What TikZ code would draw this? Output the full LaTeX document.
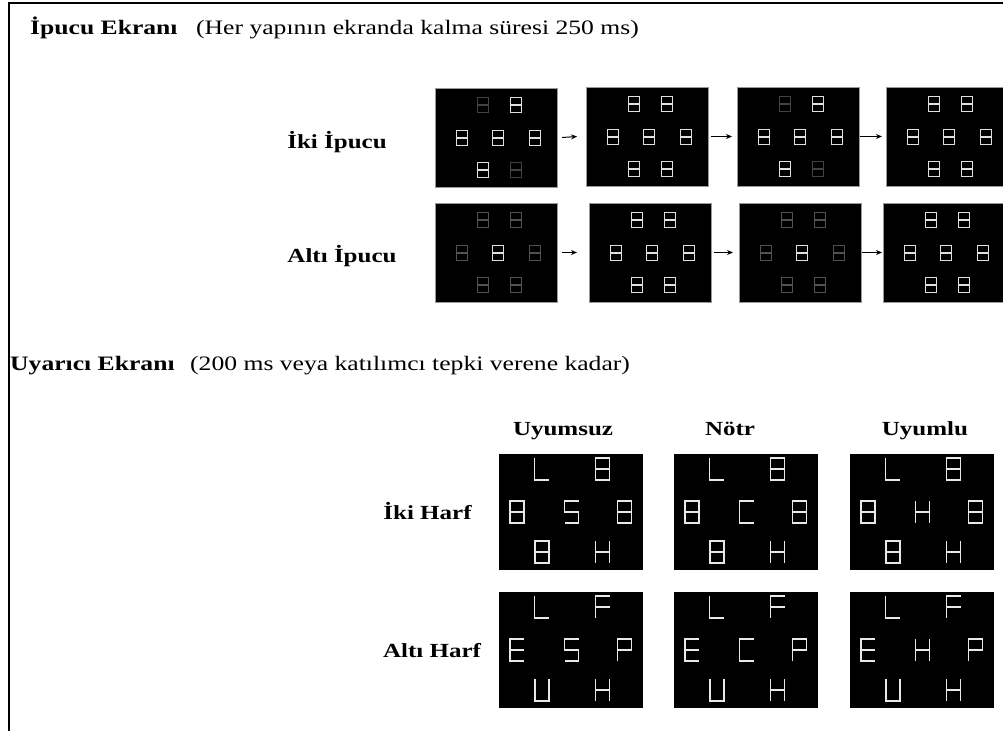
\documentclass[tikz,border=0pt]{standalone}
\usepackage{fontspec}
\setmainfont{Liberation Serif}[FakeStretch=1.25]
\usetikzlibrary{arrows.meta}
\begin{document}
\begin{tikzpicture}[x=1pt,y=-1pt,
  hdr/.style={font=\fontsize{20.5}{24}\selectfont\bfseries, inner sep=0pt, anchor=base west},
  sub/.style={font=\fontsize{20.5}{24}\selectfont, inner sep=0pt, anchor=base west},
  lbl/.style={font=\fontsize{20}{24}\selectfont\bfseries, inner sep=0pt, anchor=base},
  cuepanel/.style={fill=black, draw=black!40, line width=0.8pt, minimum width=122pt, minimum height=99pt, anchor=north west, inner sep=0pt, outer sep=0pt},
  stimpanel/.style={fill=black, draw=none, minimum width=144pt, minimum height=116pt, anchor=north west, inner sep=0pt, outer sep=0pt},
  seg/.style={line width=1.5pt, line cap=butt, line join=miter},
  arr/.style={-{Stealth[length=6pt,width=5pt]}, line width=1pt},
  frame/.style={line width=2pt},
  bright/.style={color=black!12},
  dimA/.style={color=black!74},
  dimB/.style={color=black!68},
  letter/.style={color=black!9},
  pics/g8/.style={code={\draw[seg] (-\ga,-\gb) rectangle (\ga,\gb) (-\ga,0) -- (\ga,0);}},
  pics/gL/.style={code={\draw[seg] (-\ga,-\gb) -- (-\ga,\gb) -- (\ga,\gb);}},
  pics/gS/.style={code={\draw[seg] (\ga,-\gb) -- (-\ga,-\gb) -- (-\ga,0) -- (\ga,0) -- (\ga,\gb) -- (-\ga,\gb);}},
  pics/gH/.style={code={\draw[seg] (-\ga,-\gb) -- (-\ga,\gb) (\ga,-\gb) -- (\ga,\gb) (-\ga,0) -- (\ga,0);}},
  pics/gC/.style={code={\draw[seg] (\ga,-\gb) -- (-\ga,-\gb) -- (-\ga,\gb) -- (\ga,\gb);}},
  pics/gE/.style={code={\draw[seg] (\ga,-\gb) -- (-\ga,-\gb) -- (-\ga,\gb) -- (\ga,\gb) (-\ga,0) -- (\ga,0);}},
  pics/gF/.style={code={\draw[seg] (\ga,-\gb) -- (-\ga,-\gb) -- (-\ga,\gb) (-\ga,0) -- (\ga,0);}},
  pics/gP/.style={code={\draw[seg] (-\ga,\gb) -- (-\ga,-\gb) -- (\ga,-\gb) -- (\ga,0) -- (-\ga,0);}},
  pics/gU/.style={code={\draw[seg] (-\ga,-\gb) -- (-\ga,\gb) -- (\ga,\gb) -- (\ga,-\gb);}}
]
\useasboundingbox (0,0) rectangle (1003,731);
\clip (0,0) rectangle (1003,731);

% frame
\draw[frame] (9,731) -- (9,3) -- (1003,3);

% headers
\node[hdr] (h1) at (30,34) {İpucu Ekranı};
\node[sub] (h1s) at (196,34) {(Her yapının ekranda kalma süresi 250 ms)};
\node[hdr] (h2) at (10,370) {Uyarıcı Ekranı};
\node[sub] (h2s) at (190,370) {(200 ms veya katılımcı tepki verene kadar)};

% cue row labels
\node[lbl] (l1) at (337,148) {İki İpucu};
\node[lbl] (l2) at (342,262) {Altı İpucu};

% cue glyph set macro
\newcommand\cueglyphs[8]{%
  \begin{scope}[shift={(#1.north west)}]
    \def\ga{5.5}\def\gb{7.5}
    \pic[#2] at (48,17) {g8};
    \pic[#3] at (81,17) {g8};
    \pic[#4] at (27,50) {g8};
    \pic[#5] at (63,50) {g8};
    \pic[#6] at (100,50) {g8};
    \pic[#7] at (48,82) {g8};
    \pic[#8] at (81,82) {g8};
  \end{scope}}

% cue panels row 1
\node[cuepanel] (c11) at (435,88) {};
\node[cuepanel] (c12) at (586,87) {};
\node[cuepanel] (c13) at (737,87) {};
\node[cuepanel] (c14) at (886,87) {};
\cueglyphs{c11}{dimA}{bright}{bright}{bright}{bright}{bright}{dimA}
\cueglyphs{c12}{bright}{bright}{bright}{bright}{bright}{bright}{bright}
\cueglyphs{c13}{dimA}{bright}{bright}{bright}{bright}{bright}{dimA}
\cueglyphs{c14}{bright}{bright}{bright}{bright}{bright}{bright}{bright}
\draw[arr] ([xshift=5pt]c11.east) -- ([xshift=-9pt]c12.west);
\draw[arr] ([xshift=3pt]c12.east) -- ([xshift=-5pt]c13.west);
\draw[arr] ([xshift=1pt]c13.east) -- ([xshift=-4pt]c14.west);

% cue panels row 2
\node[cuepanel] (c21) at (435,203) {};
\node[cuepanel] (c22) at (589,203) {};
\node[cuepanel] (c23) at (739,203) {};
\node[cuepanel] (c24) at (883,203) {};
\cueglyphs{c21}{dimB}{dimB}{dimB}{bright}{dimB}{dimB}{dimB}
\cueglyphs{c22}{bright}{bright}{bright}{bright}{bright}{bright}{bright}
\cueglyphs{c23}{dimB}{dimB}{dimB}{bright}{dimB}{dimB}{dimB}
\cueglyphs{c24}{bright}{bright}{bright}{bright}{bright}{bright}{bright}
\draw[arr] ([xshift=5pt]c21.east) -- ([xshift=-12pt]c22.west);
\draw[arr] ([xshift=3pt]c22.east) -- ([xshift=-6pt]c23.west);
\draw[arr] ([xshift=1pt]c23.east) -- ([xshift=-1pt]c24.west);

% stimulus column headers
\node[lbl] (k1) at (563,435) {Uyumsuz};
\node[lbl] (k2) at (730,435) {Nötr};
\node[lbl] (k3) at (925,435) {Uyumlu};

% stimulus row labels
\node[lbl] (r1) at (427.5,519) {İki Harf};
\node[lbl] (r2) at (432,657) {Altı Harf};

\newcommand\stimglyphs[8]{%
  \begin{scope}[shift={(#1.north west)}, letter, seg/.append style={line width=1.9pt}]
    \def\ga{7}\def\gb{11}
    \pic at (42.5,15) {#2};
    \pic at (103.5,15) {#3};
    \pic at (18,58) {#4};
    \pic at (72.5,58) {#5};
    \pic at (125.5,58) {#6};
    \pic at (43,98) {#7};
    \pic at (103.5,98) {#8};
  \end{scope}}

\node[stimpanel] (s11) at (499,454) {};
\node[stimpanel] (s12) at (674,454) {};
\node[stimpanel] (s13) at (850,454) {};
\node[stimpanel] (s21) at (499,592) {};
\node[stimpanel] (s22) at (674,592) {};
\node[stimpanel] (s23) at (850,592) {};

\stimglyphs{s11}{gL}{g8}{g8}{gS}{g8}{g8}{gH}
\stimglyphs{s12}{gL}{g8}{g8}{gC}{g8}{g8}{gH}
\stimglyphs{s13}{gL}{g8}{g8}{gH}{g8}{g8}{gH}
\stimglyphs{s21}{gL}{gF}{gE}{gS}{gP}{gU}{gH}
\stimglyphs{s22}{gL}{gF}{gE}{gC}{gP}{gU}{gH}
\stimglyphs{s23}{gL}{gF}{gE}{gH}{gP}{gU}{gH}
\end{tikzpicture}
\end{document}
